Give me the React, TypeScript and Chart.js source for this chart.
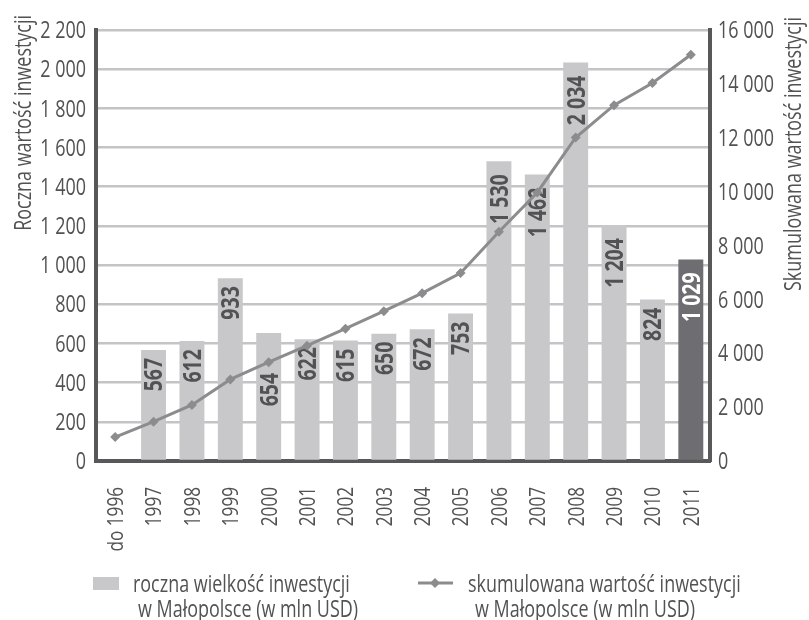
import React, { useEffect, useRef } from 'react';
import { Chart, registerables } from 'chart.js';

Chart.register(...registerables);

// ---- data ----
const categories = ['do 1996', '1997', '1998', '1999', '2000', '2001', '2002', '2003', '2004', '2005', '2006', '2007', '2008', '2009', '2010', '2011'];
const annualValues: (number | null)[] = [null, 567, 612, 933, 654, 622, 615, 650, 672, 753, 1530, 1462, 2034, 1204, 824, 1029];
const cumulativeValues = [890, 1460, 2080, 3030, 3670, 4280, 4910, 5560, 6230, 6980, 8510, 9970, 12010, 13210, 14030, 15080];
const highlightCategory = '2011';
const leftAxisTitle = 'Roczna wartość inwestycji';
const rightAxisTitle = 'Skumulowana wartość inwestycji';
const annualLegend = ['roczna wielkość inwestycji', 'w Małopolsce (w mln USD)'];
const cumulativeLegend = ['skumulowana wartość inwestycji', 'w Małopolsce (w mln USD)'];
const leftAxis = { min: 0, max: 2200, step: 200 };
const rightAxis = { min: 0, max: 16000, step: 2000 };

// ---- style ----
const FONT = "'Open Sans', 'Noto Sans', 'DejaVu Sans', sans-serif";
const CONDENSE = 0.78;
const CAP = 0.714;
const TEXT = '#525254';
const AXIS = '#58585a';
const GRID = '#c4c4c6';
const BAR = '#c8c8ca';
const BAR_DARK = '#6e6e72';
const LINE = '#8c8c8e';
const LABEL_SHIFT: Record<string, number> = { '2000': 32 };

const fmt = (v: number) => String(v).replace(/\B(?=(\d{3})+(?!\d))/g, ' ');

type TextOpts = { size: number; weight?: string; color: string; align: CanvasTextAlign; rotate?: number; center?: boolean };

function drawText(ctx: CanvasRenderingContext2D, text: string, x: number, y: number, o: TextOpts) {
  ctx.save();
  ctx.translate(x, y);
  if (o.rotate) ctx.rotate(o.rotate);
  ctx.scale(CONDENSE, 1);
  ctx.font = `${o.weight || 'normal'} ${o.size}px ${FONT}`;
  ctx.fillStyle = o.color;
  ctx.textAlign = o.align;
  ctx.textBaseline = 'alphabetic';
  ctx.fillText(text, 0, o.center ? (o.size * CAP) / 2 : 0);
  ctx.restore();
}

const textPlugin = {
  id: 'texts',
  afterDatasetDraw(chart: any, args: any) {
    if (args.index !== 0) return;
    const ctx = chart.ctx;
    args.meta.data.forEach((el: any, i: number) => {
      const v = annualValues[i];
      if (v == null) return;
      const text = fmt(v);
      const offset = (text.length > 3 ? 13 : 8) + (LABEL_SHIFT[categories[i]] || 0);
      drawText(ctx, text, el.x, el.y + offset, {
        size: 25,
        weight: 'bold',
        color: categories[i] === highlightCategory ? '#ffffff' : TEXT,
        align: 'right',
        rotate: -Math.PI / 2,
        center: true,
      });
    });
  },
  afterDraw(chart: any) {
    const ctx = chart.ctx;
    const { x, y, y1 } = chart.scales;
    // y ticks
    y.ticks.forEach((t: any) => {
      drawText(ctx, fmt(t.value), y.right - 10, y.getPixelForValue(t.value), { size: 23, color: TEXT, align: 'right', center: true });
    });
    y1.ticks.forEach((t: any) => {
      drawText(ctx, fmt(t.value), y1.left + 8, y1.getPixelForValue(t.value), { size: 23, color: TEXT, align: 'left', center: true });
    });
    // x ticks
    categories.forEach((c, i) => {
      drawText(ctx, c, x.getPixelForTick(i), x.top + 26, { size: 22, color: TEXT, align: 'right', rotate: -Math.PI / 2, center: true });
    });
    // axis titles
    drawText(ctx, leftAxisTitle, 23, 15, { size: 23, color: TEXT, align: 'right', rotate: -Math.PI / 2, center: true });
    drawText(ctx, rightAxisTitle, 793, 17, { size: 23, color: TEXT, align: 'right', rotate: -Math.PI / 2, center: true });

    // legend
    ctx.save();
    ctx.fillStyle = BAR;
    ctx.fillRect(93, 577, 26, 13);
    ctx.strokeStyle = LINE;
    ctx.lineWidth = 3;
    ctx.beginPath();
    ctx.moveTo(418, 583);
    ctx.lineTo(453, 583);
    ctx.stroke();
    ctx.fillStyle = LINE;
    ctx.beginPath();
    ctx.moveTo(435, 578);
    ctx.lineTo(440, 583);
    ctx.lineTo(435, 588);
    ctx.lineTo(430, 583);
    ctx.closePath();
    ctx.fill();
    ctx.restore();
    drawText(ctx, annualLegend[0], 133, 592, { size: 23, color: TEXT, align: 'left' });
    drawText(ctx, annualLegend[1], 138, 617, { size: 23, color: TEXT, align: 'left' });
    drawText(ctx, cumulativeLegend[0], 468, 592, { size: 23, color: TEXT, align: 'left' });
    drawText(ctx, cumulativeLegend[1], 475, 617, { size: 23, color: TEXT, align: 'left' });
  },
};

export default function App() {
  const ref = useRef<HTMLCanvasElement | null>(null);

  useEffect(() => {
    if (!ref.current) return;
    const chart = new Chart(ref.current, {
      type: 'bar',
      data: {
        labels: categories,
        datasets: [
          {
            type: 'bar',
            label: annualLegend.join(' '),
            data: annualValues as any,
            backgroundColor: categories.map((c) => (c === highlightCategory ? BAR_DARK : BAR)),
            borderWidth: 0,
            barPercentage: 0.65,
            categoryPercentage: 1,
            yAxisID: 'y',
            order: 2,
          },
          {
            type: 'line',
            label: cumulativeLegend.join(' '),
            data: cumulativeValues,
            borderColor: LINE,
            backgroundColor: LINE,
            borderWidth: 3,
            pointStyle: 'rectRot',
            pointRadius: 5,
            pointBackgroundColor: LINE,
            pointBorderColor: LINE,
            pointBorderWidth: 0,
            tension: 0,
            yAxisID: 'y1',
            order: 1,
          } as any,
        ],
      },
      options: {
        responsive: false,
        animation: false,
        devicePixelRatio: 1,
        layout: { padding: { top: 30, left: 0, right: 0, bottom: 70 } },
        plugins: {
          legend: { display: false },
          tooltip: { enabled: false },
        },
        scales: {
          x: {
            offset: true,
            grid: { drawOnChartArea: false, drawTicks: false },
            border: { display: true, color: AXIS, width: 4 },
            ticks: { display: false, autoSkip: false },
            afterFit: (s: any) => {
              s.height = 89;
            },
          },
          y: {
            position: 'left',
            min: leftAxis.min,
            max: leftAxis.max,
            grid: { color: GRID, lineWidth: 2.5, drawTicks: false },
            border: { display: true, color: AXIS, width: 4 },
            ticks: { display: false, stepSize: leftAxis.step },
            afterFit: (s: any) => {
              s.width = 96;
            },
          },
          y1: {
            position: 'right',
            min: rightAxis.min,
            max: rightAxis.max,
            grid: { drawOnChartArea: false, drawTicks: false },
            border: { display: true, color: AXIS, width: 4 },
            ticks: { display: false, stepSize: rightAxis.step },
            afterFit: (s: any) => {
              s.width = 99;
            },
          },
        },
      } as any,
      plugins: [textPlugin],
    });
    return () => chart.destroy();
  }, []);

  return (
    <div style={{ position: 'absolute', left: 0, top: 0, width: 809, height: 620, background: '#fff' }}>
      <canvas ref={ref} width={809} height={620} style={{ width: 809, height: 620 }} />
    </div>
  );
}
